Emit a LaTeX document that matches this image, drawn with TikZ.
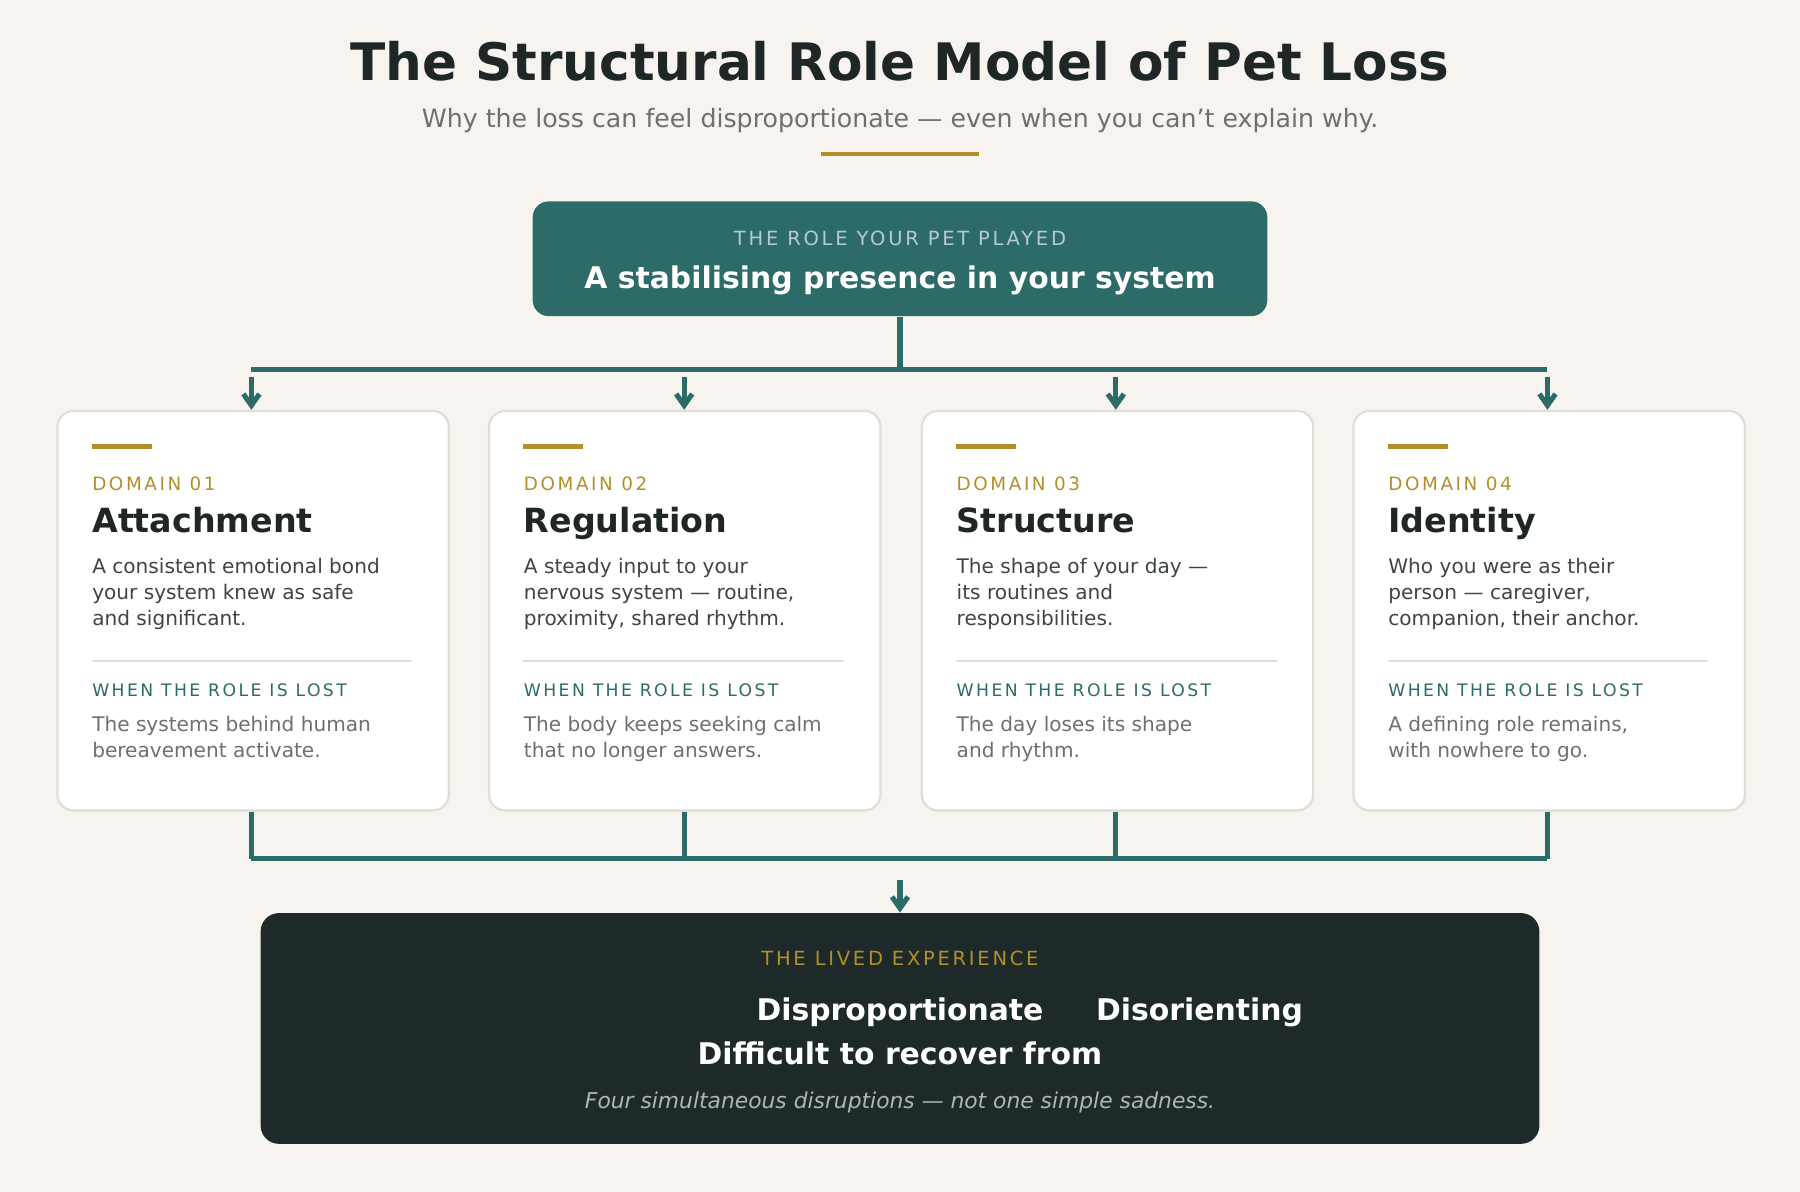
\documentclass[tikz,border=0pt]{standalone}
\usepackage{fontspec}
\setmainfont{DejaVu Sans}
\newfontfamily\spaced[LetterSpace=14]{DejaVu Sans}
\usetikzlibrary{arrows.meta}
\definecolor{bg}{HTML}{F7F4EF}
\definecolor{teal}{HTML}{2D6B68}
\definecolor{dark}{HTML}{1E2A2A}
\definecolor{gold}{HTML}{B38F2A}
\definecolor{ink}{HTML}{1E2626}
\definecolor{body}{HTML}{3F4545}
\definecolor{muted}{HTML}{6F706B}
\definecolor{cardline}{HTML}{E2DDD5}
\tikzset{
 conn/.style={draw=teal,line width=2.2pt},
 arr/.style={conn,-{Straight Barb[length=5pt,width=7pt]}},
 bl/.style={anchor=base west,inner sep=0},
 bc/.style={anchor=base,inner sep=0},
 card/.style={draw=cardline,line width=1pt,fill=white,rounded corners=7pt},
}
\newcommand\pcard[8]{%
 \node[card,minimum width=170.5pt,minimum height=174pt,anchor=north west] (c#2) at (#1,357) {};
 \draw[gold,line width=2.5pt] (#1+31,389) -- (#1+83,389);
 \node[bl,text=gold,font=\spaced\fontsize{8}{8}\selectfont] at (#1+31,427) {DOMAIN 0#2};
 \node[bl,text=ink,font=\bfseries\fontsize{14.5}{14.5}\selectfont] at (#1+31,464) {#3};
 \node[bl,text=body,font=\fontsize{8.75}{8.75}\selectfont] at (#1+31,500) {#4};
 \node[bl,text=body,font=\fontsize{8.75}{8.75}\selectfont] at (#1+31,522.5) {#5};
 \node[bl,text=body,font=\fontsize{8.75}{8.75}\selectfont] at (#1+31,545) {#6};
 \draw[cardline,line width=1pt] (#1+31,576) -- (#1+310,576);
 \node[bl,text=teal,font=\spaced\fontsize{7.5}{7.5}\selectfont] at (#1+31,607) {WHEN THE ROLE IS LOST};
 \node[bl,text=muted,font=\fontsize{8.75}{8.75}\selectfont] at (#1+31,637) {#7};
 \node[bl,text=muted,font=\fontsize{8.75}{8.75}\selectfont] at (#1+31,660) {#8};
}
\begin{document}
\begin{tikzpicture}[x=0.5pt,y=-0.5pt]
\fill[bg] (0,0) rectangle (1568,1038);
\useasboundingbox (0,0) rectangle (1568,1038);
\node[bc,text=ink,font=\bfseries\fontsize{22.5}{22.5}\selectfont] (title) at (784,70) {The Structural Role Model of Pet Loss};
\node[bc,text=muted,font=\fontsize{11}{11}\selectfont] (sub) at (784,111) {Why the loss can feel disproportionate — even when you can’t explain why.};
\draw[gold,line width=2pt] (715,134) -- (853,134);
\node[fill=teal,rounded corners=7pt,minimum width=320pt,minimum height=50pt,anchor=north] (top) at (784,175) {};
\node[bc,text=teal!35!white,font=\spaced\fontsize{8.5}{8.5}\selectfont] at (784,214) {THE ROLE YOUR PET PLAYED};
\node[bc,text=white,font=\bfseries\fontsize{13}{13}\selectfont] at (784,251) {A stabilising presence in your system};
\pcard{49}{1}{Attachment}{A consistent emotional bond}{your system knew as safe}{and significant.}{The systems behind human}{bereavement activate.}
\pcard{425}{2}{Regulation}{A steady input to your}{nervous system — routine,}{proximity, shared rhythm.}{The body keeps seeking calm}{that no longer answers.}
\pcard{802}{3}{Structure}{The shape of your day —}{its routines and}{responsibilities.}{The day loses its shape}{and rhythm.}
\pcard{1178}{4}{Identity}{Who you were as their}{person — caregiver,}{companion, their anchor.}{A defining role remains,}{with nowhere to go.}
\coordinate (hub) at (784,322);
\draw[conn] (top.south) -- (hub);
\draw[conn] (219,322) -- (1348,322);
\foreach \i/\x in {1/219,2/596,3/972,4/1348}{
 \coordinate (a\i) at (\x,328);
 \draw[arr] (a\i) -- (c\i.north -| a\i);
 \coordinate (b\i) at (\x,748);
 \draw[conn] (c\i.south -| b\i) -- (b\i);
}
\draw[conn] (219,748) -- (1348,748);
\node[fill=dark,rounded corners=8pt,minimum width=557pt,minimum height=100.5pt,anchor=north] (bot) at (784,795) {};
\coordinate (ba) at (784,767);
\draw[arr] (ba) -- (bot.north);
\node[bc,text=gold,font=\spaced\fontsize{8.5}{8.5}\selectfont] at (784,841) {THE LIVED EXPERIENCE};
\node[bc,text=white,font=\bfseries\fontsize{13}{13}\selectfont] at (784,889) {Disproportionate};
\node[bc,text=white,font=\bfseries\fontsize{13}{13}\selectfont] at (1045,889) {Disorienting};
\node[bc,text=white,font=\bfseries\fontsize{13}{13}\selectfont] at (784,927) {Difficult to recover from};
\node[bc,text=white!65!dark,font=\itshape\fontsize{9.5}{9.5}\selectfont] at (784,966) {Four simultaneous disruptions — not one simple sadness.};
\end{tikzpicture}
\end{document}
